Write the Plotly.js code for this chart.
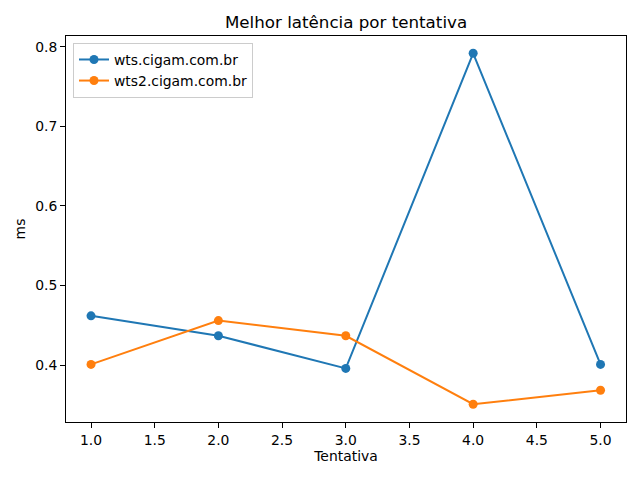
<!DOCTYPE html>
<html><head><meta charset="utf-8">
<script src="https://cdn.plot.ly/plotly-3.0.1.min.js"></script>
<style>html,body{margin:0;padding:0;background:#fff}</style>
</head><body>
<div id="chart" style="width:640px;height:480px"></div>
<script>
const tentativas = [1, 2, 3, 4, 5];
const wts = [0.462, 0.437, 0.396, 0.7917, 0.401];
const wts2 = [0.401, 0.456, 0.437, 0.351, 0.3686];
const seriesNames = ["wts.cigam.com.br", "wts2.cigam.com.br"];

const font = {family: "DejaVu Sans, sans-serif", size: 13.9, color: "#000"};
const traces = [
  {x: tentativas, y: wts, name: seriesNames[0], mode: "lines+markers",
   line: {color: "#1f77b4", width: 2}, marker: {color: "#1f77b4", size: 9}},
  {x: tentativas, y: wts2, name: seriesNames[1], mode: "lines+markers",
   line: {color: "#ff7f0e", width: 2}, marker: {color: "#ff7f0e", size: 9}}
];
const axisCommon = {showgrid: false, zeroline: false, showline: true, mirror: true,
  linecolor: "#000", linewidth: 1, ticks: "outside", ticklen: 5, tickcolor: "#000",
  tickfont: font};
const layout = {
  width: 640, height: 480,
  margin: {l: 66, r: 14, t: 36, b: 58},
  paper_bgcolor: "#fff", plot_bgcolor: "#fff",
  font: font,
  title: {text: "Melhor latência por tentativa", font: {family: font.family, size: 16.7, color: "#000"},
          xref: "paper", x: 0.5, xanchor: "center", y: 1 - 22/480, yanchor: "middle"},
  xaxis: Object.assign({}, axisCommon, {range: [0.8036, 5.2], tickvals: [1,1.5,2,2.5,3,3.5,4,4.5,5],
    ticktext: ["1.0","1.5","2.0","2.5","3.0","3.5","4.0","4.5","5.0"],
    title: {text: "Tentativa", font: font, standoff: 4}}),
  yaxis: Object.assign({}, axisCommon, {range: [0.3287, 0.8134], tickvals: [0.4,0.5,0.6,0.7,0.8],
    ticktext: ["0.4","0.5","0.6","0.7","0.8"],
    title: {text: "ms", font: font, standoff: 6}}),
  legend: {x: 0.0125, y: 0.982, xanchor: "left", yanchor: "top", bgcolor: "rgba(255,255,255,0.8)",
    bordercolor: "#ccc", borderwidth: 1, font: font, tracegroupgap: 0},
  showlegend: true
};
Plotly.newPlot("chart", traces, layout, {displayModeBar: false, staticPlot: true});
</script>
</body></html>
